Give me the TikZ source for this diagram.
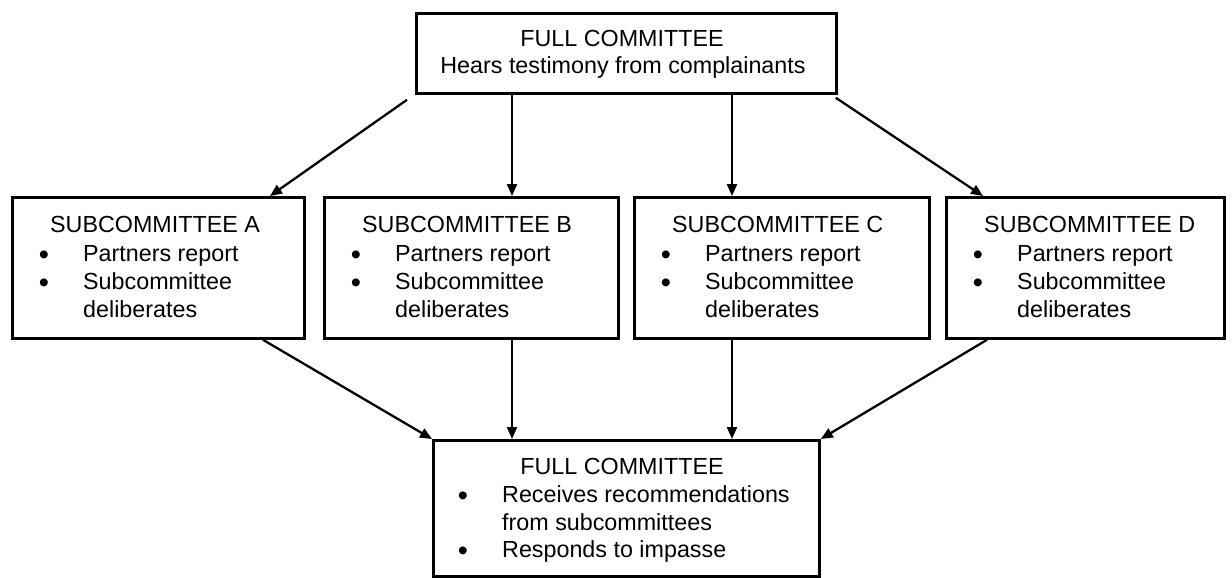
\documentclass[tikz,border=0pt]{standalone}
\usepackage{fontspec}
\setmainfont{Liberation Sans}
\usetikzlibrary{arrows.meta}
\newcommand\mysubbox[4]{%
  \node[box,minimum width=#3pt,minimum height=141pt,anchor=north west] (#1) at (#2,196) {};
  \node[txt,anchor=base west] (#1t) at (#2+39,232) {SUBCOMMITTEE #4};
  \node[bul] (#1b1) at (#2+33,264) {•};
  \node[txt,anchor=base west] (#1l1) at (#2+72,261) {Partners report};
  \node[bul] (#1b2) at (#2+33,292) {•};
  \node[txt,anchor=base west] (#1l2) at (#2+72,289) {Subcommittee};
  \node[txt,anchor=base west] (#1l3) at (#2+72,317) {deliberates};
}
\begin{document}
\begin{tikzpicture}[x=1pt,y=-1pt,
  box/.style={draw,line width=2.8pt,inner sep=0pt},
  txt/.style={font=\fontsize{23.3}{28}\selectfont,inner sep=0pt},
  bul/.style={font=\fontsize{29}{30}\selectfont,inner sep=0pt,anchor=base},
  arr/.style={line width=2.3pt,-{Triangle[length=12pt,width=10pt]}}]
\useasboundingbox (0,0) rectangle (1232,578);
% top box
\node[box,minimum width=420pt,minimum height=80pt,anchor=north west] (top) at (415,12) {};
\node[txt,anchor=base] (topt) at (622,47) {FULL COMMITTEE};
\node[txt,anchor=base] (topl) at (623,74) {Hears testimony from complainants};
% subcommittees
\mysubbox{A}{11}{292}{A}
\mysubbox{B}{323}{294}{B}
\mysubbox{C}{633}{295}{C}
\mysubbox{D}{945}{278}{D}
% bottom box
\node[box,minimum width=386pt,minimum height=136pt,anchor=north west] (bot) at (432,439) {};
\node[txt,anchor=base] (bott) at (622,474) {FULL COMMITTEE};
\node[bul] (botb1) at (463,505) {•};
\node[txt,anchor=base west] (botl1) at (502,502) {Receives recommendations};
\node[txt,anchor=base west] (botl2) at (502,530) {from subcommittees};
\node[bul] (botb2) at (463,560) {•};
\node[txt,anchor=base west] (botl3) at (502,557) {Responds to impasse};
% connectors
\coordinate (xb) at (512,0);
\coordinate (xc) at (732,0);
\draw[arr] ([shift={(-8pt,-5pt)}]top.south west) -- ([xshift=259pt]A.north west);
\draw[arr] (top.south -| xb) -- (B.north -| xb);
\draw[arr] (top.south -| xc) -- (C.north -| xc);
\draw[arr] ([shift={(-2pt,-3pt)}]top.south east) -- ([xshift=38pt]D.north west);
\draw[arr] ([xshift=252pt]A.south west) -- (bot.north west);
\draw[arr] (B.south -| xb) -- (bot.north -| xb);
\draw[arr] (C.south -| xc) -- (bot.north -| xc);
\draw[arr] ([xshift=42pt]D.south west) -- (bot.north east);
\end{tikzpicture}
\end{document}
